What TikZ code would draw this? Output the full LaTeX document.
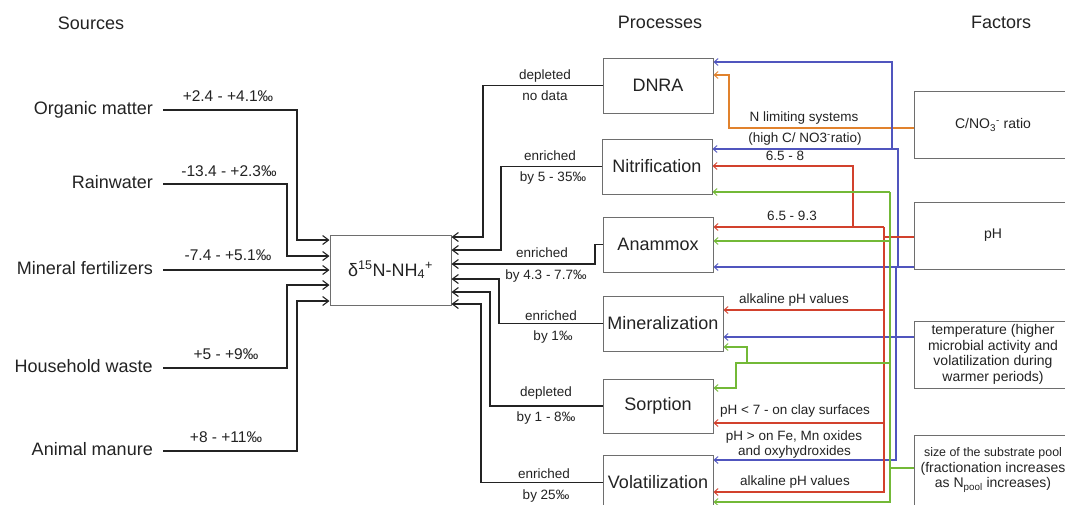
\documentclass[tikz,border=0pt]{standalone}
\usepackage{fontspec}
\setmainfont{Liberation Sans}
\usetikzlibrary{arrows.meta}
\definecolor{cblue}{RGB}{80,85,190}
\definecolor{corange}{RGB}{225,130,45}
\definecolor{cred}{RGB}{210,65,45}
\definecolor{cgreen}{RGB}{115,185,55}
\definecolor{ink}{RGB}{35,35,35}
\definecolor{edge}{RGB}{110,110,110}
\newcommand\fsz[1]{\fontsize{#1}{#1}\selectfont}
\tikzset{
  hdr/.style={font=\fsz{18}, text=ink, inner sep=0},
  src/.style={font=\fsz{18}, text=ink, anchor=east, inner xsep=10pt, inner ysep=0pt, text height=13pt, text depth=4pt},
  val/.style={font=\fsz{15.5}, text=ink, inner sep=0, text height=11pt, text depth=3pt},
  lbl/.style={font=\fsz{13.5}, text=ink, inner sep=0, text height=10pt, text depth=3pt},
  proc/.style={draw=edge, line width=1pt, minimum width=110pt, minimum height=55pt, inner sep=0, font=\fsz{18}, text=ink},
  fact/.style={draw=edge, line width=1pt, minimum width=158pt, minimum height=67pt, inner sep=0, font=\fontsize{14}{15.5}\selectfont, text=ink, align=center},
  blk/.style={draw=ink, line width=1.2pt, -{Straight Barb[length=6pt,width=9pt,line width=1.1pt]}},
  col/.style={line width=1.1pt, -{Straight Barb[length=4pt,width=7pt,line width=0.9pt]}},
}
\begin{document}
\begin{tikzpicture}[x=1pt,y=-1pt]
\useasboundingbox (0,0) rectangle (1065,504);
\clip (0,0) rectangle (1065,504);
\fill[white] (0,0) rectangle (1065,504);

% headers
\node[hdr] (hsrc) at (91,23) {Sources};
\node[hdr] (hproc) at (660,22) {Processes};
\node[hdr] (hfac) at (1001,22) {Factors};

% sources
\node[src] (om) at (163,110) {Organic matter};
\node[src] (rw) at (163,184) {Rainwater};
\node[src] (mf) at (163,270) {Mineral fertilizers};
\node[src] (hw) at (163,368) {Household waste};
\node[src] (am) at (163,451) {Animal manure};

% central node
\node[draw=edge, line width=1pt, minimum width=121pt, minimum height=70pt, inner sep=0, font=\fsz{18}, text=ink] (delta) at (390.5,270)
  {δ\textsuperscript{15}N-NH\textsubscript{4}\textsuperscript{+}};

% source values
\node[val] (v1) at (228,97) {+2.4 - +4.1‰};
\node[val] (v2) at (229,172) {-13.4 - +2.3‰};
\node[val] (v3) at (228,256) {-7.4 - +5.1‰};
\node[val] (v4) at (226,355) {+5 - +9‰};
\node[val] (v5) at (226,438) {+8 - +11‰};

% source connectors
\draw[blk] (om.east) -- (297,110) |- (delta.west |- 0,240);
\draw[blk] (rw.east) -- (287,184) |- (delta.west |- 0,256);
\draw[blk] (mf.east) -- (delta.west |- 0,270);
\draw[blk] (hw.east) -- (287,368) |- (delta.west |- 0,285);
\draw[blk] (am.east) -- (297,451) |- (delta.west |- 0,301);

% processes
\node[proc] (dnra) at (658,85.5) {DNRA};
\node[proc] (nit) at (657,166.5) {Nitrification};
\node[proc] (ana) at (658,244.5) {Anammox};
\node[proc, minimum width=120pt] (min) at (663,323.5) {Mineralization};
\node[proc, minimum height=54pt] (sor) at (658,406) {Sorption};
\node[proc] (vol) at (658,482.5) {Volatilization};

% process connectors
\draw[blk] (dnra.west) -- (483,85.5) |- (delta.east |- 0,237);
\draw[blk] (nit.west) -- (501,166.5) |- (delta.east |- 0,250);
\draw[blk] (ana.west) -- (595,244.5) |- (delta.east |- 0,264);
\draw[blk] (min.west) -- (499,323.5) |- (delta.east |- 0,279);
\draw[blk] (sor.west) -- (490,406) |- (delta.east |- 0,292);
\draw[blk] (vol.west) -- (481,482.5) |- (delta.east |- 0,304);

% process labels
\node[lbl] (l1a) at (545,76) {depleted};
\node[lbl] (l1b) at (545,97) {no data};
\node[lbl] (l2a) at (550,157) {enriched};
\node[lbl] (l2b) at (553,178) {by 5 - 35‰};
\node[lbl] (l3a) at (542,254) {enriched};
\node[lbl] (l3b) at (546,276) {by 4.3 - 7.7‰};
\node[lbl] (l4a) at (551,317) {enriched};
\node[lbl] (l4b) at (553,337) {by 1‰};
\node[lbl] (l5a) at (546,393) {depleted};
\node[lbl] (l5b) at (546,418) {by 1 - 8‰};
\node[lbl] (l6a) at (544,475) {enriched};
\node[lbl] (l6b) at (546,496) {by 25‰};

% factors
\node[fact] (cn) at (993,125) {C/NO\textsubscript{3}\textsuperscript{-} ratio};
\node[fact] (ph) at (993,235.5) {pH};
\node[fact] (tmp) at (993,354.5) {temperature (higher\\microbial activity and\\volatilization during\\warmer periods)};
\node[fact, minimum height=70pt] (size) at (993,470) {{\fontsize{12.4}{15.5}\selectfont size of the substrate pool}\\(fractionation increases\\as N\textsubscript{pool} increases)};

% orange
\draw[col, corange] (cn.west |- 0,128) -- (729,128) |- (dnra.east |- 0,75);
\node[lbl] (o1) at (804,118) {N limiting systems};
\node[lbl] (o2) at (805,139) {(high C/ NO3\textsuperscript{-}ratio)};

% blue
\draw[col, cblue] (892,149) -- (892,62) -- (dnra.east |- 0,62);
\draw[col, cblue] (898,267) -- (898,149) -- (nit.east |- 0,149);
\draw[col, cblue] (ph.west |- 0,267) -- (ana.east |- 0,267);
\draw[col, cblue] (896,267) -- (896,460) -- (vol.east |- 0,460);
\draw[col, cblue] (tmp.west |- 0,337) -- (min.east |- 0,337);

% red
\draw[cred, line width=1.1pt] (ph.west |- 0,237) -- (884,237);
\draw[col, cred] (884,227) -- (ana.east |- 0,227);
\draw[col, cred] (853,227) -- (853,166) -- (nit.east |- 0,166);
\draw[col, cred] (884,227) -- (884,492) -- (vol.east |- 0,492);
\draw[col, cred] (884,310) -- (min.east |- 0,310);
\draw[col, cred] (884,423) -- (sor.east |- 0,423);

% green
\draw[cgreen, line width=1.1pt] (size.west |- 0,468) -- (890,468);
\draw[col, cgreen] (890,192) -- (890,502) -- (vol.east |- 0,502);
\draw[col, cgreen] (890,192) -- (nit.east |- 0,192);
\draw[col, cgreen] (890,241) -- (ana.east |- 0,241);
\draw[col, cgreen] (890,363) -- (736,363) -- (736,388) -- (sor.east |- 0,388);
\draw[col, cgreen] (747,363) -- (747,347) -- (min.east |- 0,347);

% red labels
\node[lbl] (r1) at (785,157) {6.5 - 8};
\node[lbl] (r2) at (792,217) {6.5 - 9.3};
\node[lbl] (r3) at (794,300) {alkaline pH values};
\node[lbl] (r4) at (795,411) {pH < 7 - on clay surfaces};
\node[lbl] (r5) at (794,437) {pH > on Fe, Mn oxides};
\node[lbl] (r6) at (794.5,452) {and oxyhydroxides};
\node[lbl] (r7) at (795,482) {alkaline pH values};
\end{tikzpicture}
\end{document}
